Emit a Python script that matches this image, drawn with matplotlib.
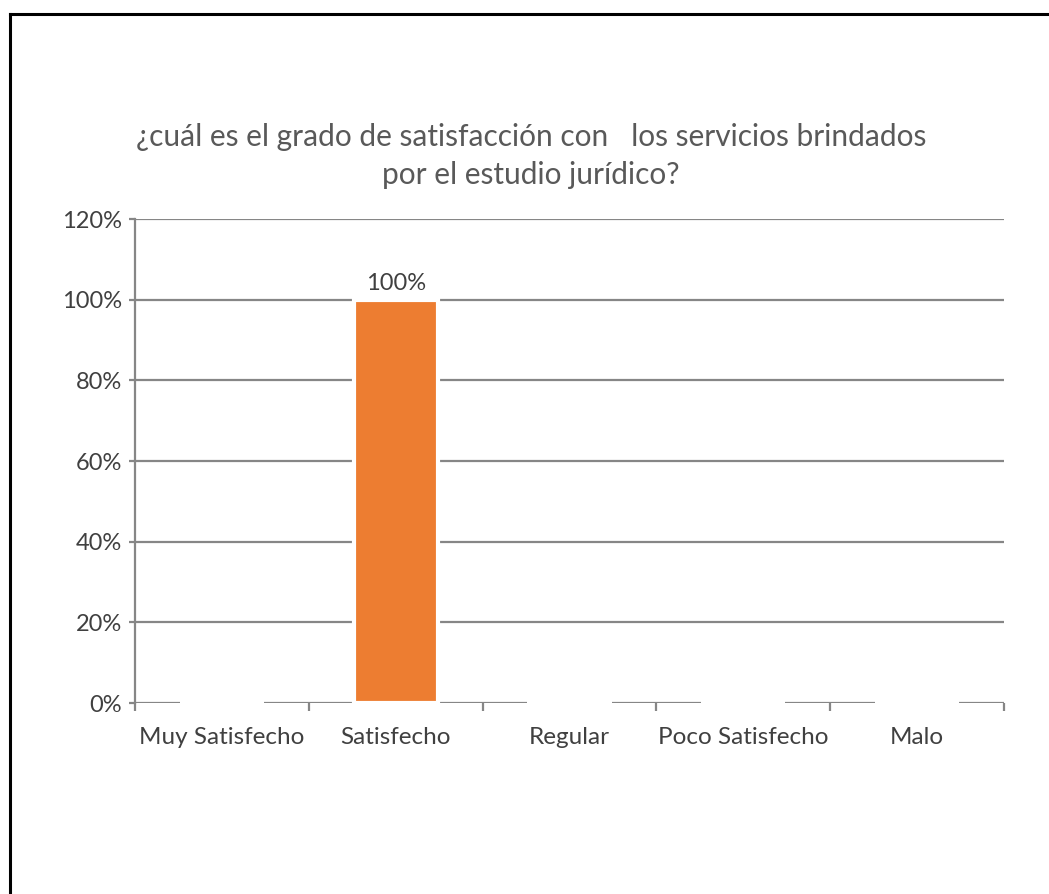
import matplotlib
matplotlib.use('Agg')
import matplotlib.pyplot as plt
from matplotlib.lines import Line2D
from matplotlib.ticker import PercentFormatter

# datos de la encuesta
categorias = ['Muy Satisfecho', 'Satisfecho', 'Regular', 'Poco Satisfecho', 'Malo']
porcentajes = [0, 100, 0, 0, 0]
etiquetas = {1: '100%'}
titulo = '¿cuál es el grado de satisfacción con   los servicios brindados\npor el estudio jurídico?'

plt.rcParams['font.family'] = ['Lato', 'DejaVu Sans']
gris = '#868686'
texto = '#404040'

fig = plt.figure(figsize=(10.49, 8.94), dpi=100)
ax = fig.add_axes([0.1287, 0.2136, 0.8284, 0.5414])

# rejilla horizontal por debajo de las barras
ax.set_axisbelow(True)
ax.grid(axis='y', color=gris, linewidth=1.6)
ax.grid(axis='x', visible=False)

x = list(range(len(categorias)))
barras = ax.bar(x, porcentajes, width=0.485, color='#ED7D31', edgecolor='white',
                linewidth=3, zorder=3)
for i, txt in etiquetas.items():
    ax.annotate(txt, (x[i], porcentajes[i]), xytext=(0, 4), textcoords='offset points',
                ha='center', va='bottom', fontsize=17, color=texto)

ax.set_xlim(-0.5, len(categorias) - 0.5)
ax.set_ylim(0, 120)
ax.yaxis.set_major_formatter(PercentFormatter(decimals=0))
ax.set_yticks(range(0, 121, 20))

# marcas del eje x en los limites de cada categoria
ax.set_xticks([i - 0.5 for i in range(len(categorias) + 1)])
ax.set_xticklabels([])
ax.set_xticks(x, minor=True)
ax.set_xticklabels(categorias, minor=True)
ax.tick_params(axis='x', which='major', direction='out', length=6, width=1.6, color=gris)
ax.tick_params(axis='x', which='minor', length=0, pad=17, labelsize=17.5, labelcolor=texto)
ax.tick_params(axis='y', direction='out', length=4.5, width=1.6, color=gris,
               labelsize=17, labelcolor=texto, pad=5)

for lado in ['top', 'right', 'bottom']:
    ax.spines[lado].set_visible(False)
ax.spines['left'].set_color(gris)
ax.spines['left'].set_linewidth(1.6)

fig.text(0.506, 0.8255, titulo, ha='center', va='center', fontsize=21.5,
         color='#595959', linespacing=1.45)

# marco del grafico
fig.add_artist(Line2D([10 / 1049, 10 / 1049], [-0.01, 1 - 14 / 894], color='black', linewidth=2.2))
fig.add_artist(Line2D([10 / 1049, 1.01], [1 - 14 / 894, 1 - 14 / 894], color='black', linewidth=2.2))

fig.savefig('out.png', dpi=100, facecolor='white')
